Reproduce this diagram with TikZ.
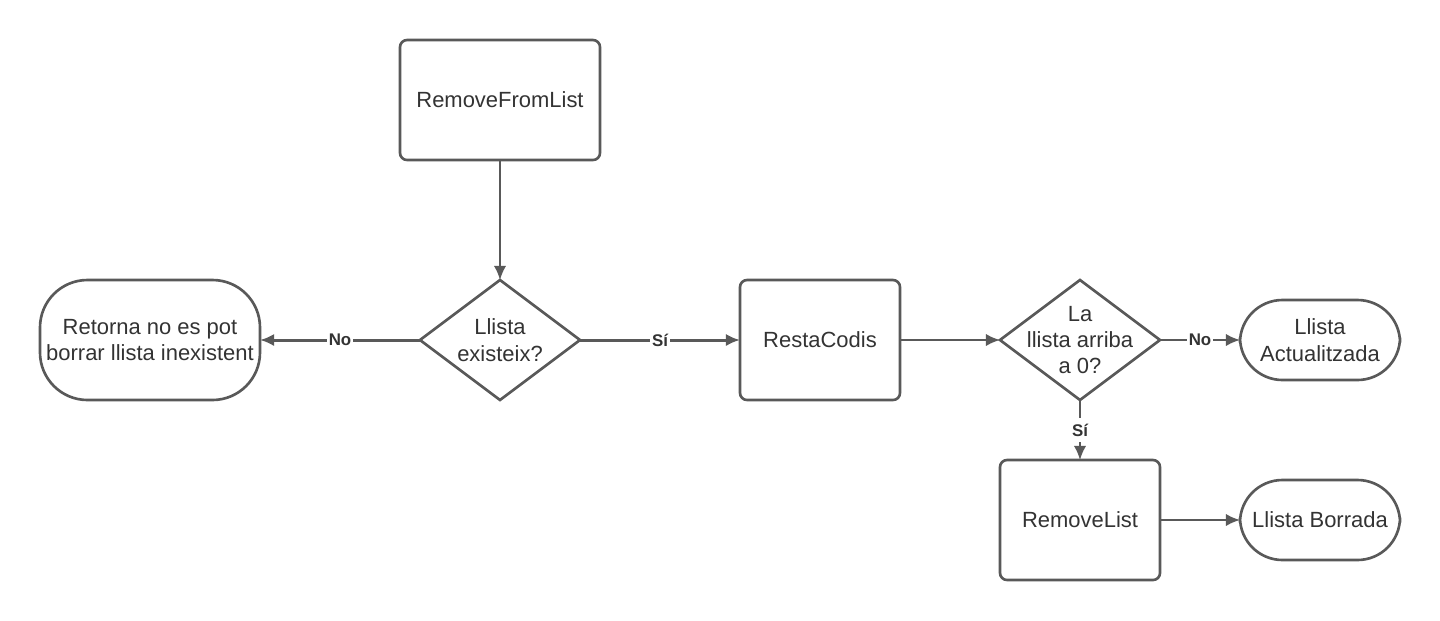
\documentclass[tikz,border=0pt]{standalone}
\usepackage{fontspec}
\setmainfont{Liberation Sans}
\usetikzlibrary{positioning,shapes.geometric,arrows.meta}
\definecolor{linegray}{HTML}{595959}
\definecolor{textgray}{HTML}{333333}

\begin{document}
\begin{tikzpicture}[
proc/.style={
  draw=linegray,
  line width=1.5pt,
  outer sep=0pt,
  rectangle,
  rounded corners=4pt,
  minimum width=4cm,
  minimum height=2.4cm,
  text=textgray,
  font=\fontsize{12.5}{15}\selectfont
},
term/.style={
  draw=linegray,
  line width=1.5pt,
  outer sep=0pt,
  rectangle,
  rounded corners=0.85cm,
  minimum width=3.2cm,
  minimum height=1.6cm,
  align=center,
  text=textgray,
  font=\fontsize{12.5}{15}\selectfont
},
decide/.style={
  draw=linegray,
  line width=1.5pt,
  outer sep=0pt,
  diamond,
  aspect=1.333,
  inner sep=0pt,
  minimum width=3.2cm,
  minimum height=2.4cm
},
every label/.style={
  text=textgray,
  font=\fontsize{12.5}{15}\selectfont
},
flow/.style={
  draw=linegray,
  line width=1.1pt,
  -{Latex[length=8pt,width=7pt]}
},
lbl/.style={
  fill=white,
  inner sep=1pt,
  text=textgray,
  font=\fontsize{9.6}{11}\selectfont\bfseries
},
node distance=2cm
]
\useasboundingbox (0,0) rectangle (28.8,-12.4);

\node[proc] at (10,-2) (rfl) {RemoveFromList};
\node[decide,below=2.4cm of rfl,
  label=center:{\parbox{2.6cm}{\centering Llista\\ existeix?}}] (exists) {};
\node[term,left=3.2cm of exists,minimum width=4.4cm,minimum height=2.4cm,
  rounded corners=0.95cm] (noexist)
  {Retorna no es pot\\ borrar llista inexistent};
\node[proc,right=3.2cm of exists,minimum width=3.2cm] (resta) {RestaCodis};
\node[decide,right=of resta,
  label=center:{\parbox{2.8cm}{\centering La\\ llista arriba\\ a 0?}}] (zero) {};
\node[term,right=1.6cm of zero] (updated) {Llista\\ Actualitzada};
\node[proc,below=1.2cm of zero,minimum width=3.2cm] (rmlist) {RemoveList};
\node[term,right=1.6cm of rmlist] (deleted) {Llista Borrada};

\draw[flow] (rfl) -- (exists);
\draw[flow,line width=1.7pt] (exists) -- node[lbl] {No} (noexist);
\draw[flow,line width=1.7pt] (exists) -- node[lbl] {Sí} (resta);
\draw[flow] (resta) -- (zero);
\draw[flow] (zero) -- node[lbl] {No} (updated);
\draw[flow] (zero) -- node[lbl,inner sep=3pt] {Sí} (rmlist);
\draw[flow] (rmlist) -- (deleted);
\end{tikzpicture}
\end{document}
